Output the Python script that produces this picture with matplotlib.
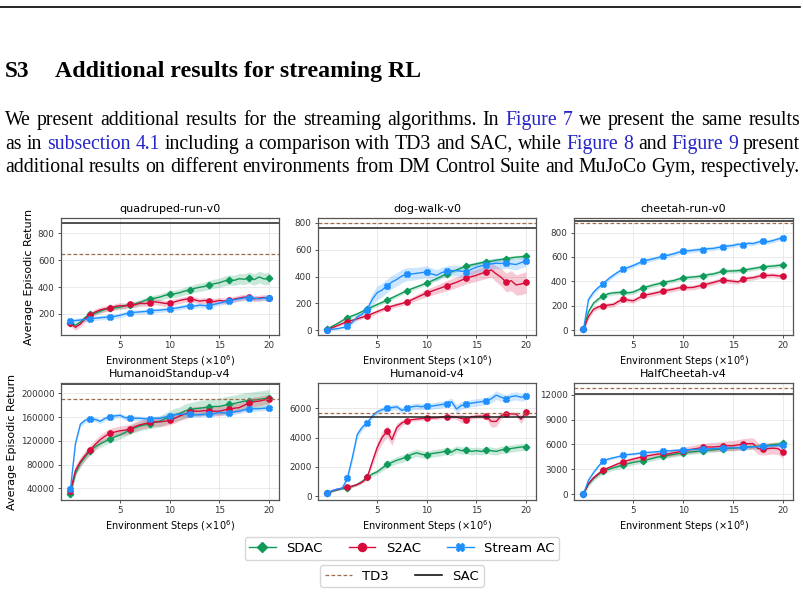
import numpy as np
import matplotlib
matplotlib.use("Agg")
import matplotlib.pyplot as plt
from matplotlib.lines import Line2D

W, H = 804, 595

# env steps (x10^6), one value every 0.5
steps = np.arange(0, 20.5, 0.5)

# ---- quadruped-run-v0
quad_sdac = [135, 115, 140, 175, 200, 205, 220, 235, 242, 245,
             250, 262, 268, 275, 285, 300, 312, 318, 325, 338,
             346, 350, 358, 370, 378, 390, 398, 405, 416, 425,
             432, 445, 453, 450, 462, 458, 470, 455, 475, 460,
             465]
quad_sdac_sd = [12, 12, 12, 13, 14, 15, 16, 16, 17, 18,
                18, 19, 20, 20, 21, 22, 22, 23, 24, 25,
                26, 27, 28, 28, 30, 30, 31, 32, 33, 34,
                35, 36, 37, 38, 40, 40, 42, 42, 44, 44,
                45]
quad_s2ac = [130, 100, 125, 165, 192, 215, 230, 238, 242, 255,
             262, 258, 272, 268, 280, 276, 284, 290, 285, 278,
             279, 290, 300, 308, 312, 305, 295, 300, 297, 292,
             300, 296, 300, 310, 318, 325, 324, 312, 318, 322,
             316]
quad_s2ac_sd = 22
quad_stream = [148, 150, 155, 158, 163, 168, 172, 175, 178, 182,
               190, 200, 207, 212, 215, 218, 222, 226, 228, 232,
               237, 242, 248, 255, 262, 258, 265, 262, 262, 272,
               280, 290, 297, 305, 312, 318, 321, 318, 312, 318,
               316]
quad_stream_sd = 17
quad_td3, quad_sac = 648, 879

# ---- dog-walk-v0
dog_sdac = [10, 30, 50, 72, 94, 108, 122, 140, 158, 175,
            192, 208, 225, 242, 260, 278, 295, 310, 324, 338,
            352, 368, 385, 403, 421, 435, 450, 465, 478, 488,
            495, 503, 510, 515, 522, 528, 535, 540, 545, 548,
            552]
dog_sdac_sd = 14
dog_s2ac = [5, 20, 35, 50, 64, 75, 86, 98, 109, 124,
            139, 154, 168, 180, 190, 200, 211, 228, 245, 262,
            280, 292, 305, 318, 332, 345, 358, 374, 389, 400,
            410, 424, 436, 450, 420, 395, 357, 370, 338, 345,
            357]
dog_s2ac_sd = [5, 8, 10, 10, 12, 12, 12, 12, 12, 14,
               14, 14, 15, 15, 16, 16, 18, 20, 22, 25,
               28, 30, 32, 35, 38, 40, 40, 42, 42, 45,
               45, 48, 50, 55, 60, 65, 70, 75, 75, 80,
               80]
dog_stream = [5, 8, 12, 20, 30, 60, 100, 120, 154, 230,
              280, 300, 332, 360, 380, 405, 419, 420, 425, 430,
              436, 420, 410, 430, 441, 445, 445, 440, 436, 455,
              470, 480, 490, 495, 500, 498, 503, 495, 490, 505,
              515]
dog_stream_sd = [5, 5, 6, 8, 10, 15, 20, 25, 30, 45,
                 50, 50, 50, 50, 50, 50, 48, 48, 45, 45,
                 45, 45, 42, 40, 40, 40, 40, 40, 40, 40,
                 40, 40, 40, 40, 40, 40, 40, 40, 40, 40,
                 40]
dog_td3, dog_sac = 800, 763

# ---- cheetah-run-v0
run_sdac = [5, 150, 220, 255, 278, 298, 305, 308, 311, 305,
            312, 330, 349, 358, 370, 380, 390, 398, 405, 418,
            429, 432, 435, 440, 445, 455, 460, 472, 483, 484,
            485, 488, 491, 498, 505, 512, 521, 522, 525, 530,
            535]
run_sdac_sd = 18
run_s2ac = [5, 110, 170, 190, 197, 205, 210, 235, 254, 245,
            240, 262, 284, 292, 300, 310, 319, 328, 335, 345,
            350, 348, 350, 360, 369, 380, 390, 402, 412, 405,
            400, 395, 418, 425, 430, 440, 450, 448, 450, 445,
            442]
run_s2ac_sd = 20
run_stream = [5, 250, 310, 350, 382, 420, 450, 478, 500, 515,
              530, 548, 568, 575, 585, 595, 609, 615, 625, 638,
              647, 650, 655, 660, 661, 668, 670, 678, 683, 690,
              695, 705, 696, 712, 710, 722, 732, 725, 735, 748,
              756]
run_stream_sd = 18
run_td3, run_sac = 876, 893

# ---- HumanoidStandup-v4 (in thousands)
stand_sdac = [30, 65, 82, 93, 103.7, 110, 115, 119, 122.8, 127,
              130, 134, 138.6, 142, 145, 147, 148.7, 151, 153, 157,
              161, 164, 166, 170, 172.4, 174, 175, 176, 177, 178,
              178, 180, 182, 183, 185, 187, 188, 189, 190, 191,
              193]
stand_sdac_sd = [2, 5, 6, 6, 6, 6, 6, 6, 6, 7,
                 7, 7, 7, 8, 8, 8, 8, 9, 9, 10,
                 10, 11, 11, 12, 12, 12, 13, 13, 13, 13,
                 14, 14, 14, 14, 14, 14, 14, 14, 14, 14,
                 14]
stand_s2ac = [36, 70, 85, 96, 105, 114, 122, 128, 133, 135,
              137, 138, 140, 144, 147, 149, 151, 152, 152, 153,
              155, 158, 162, 165, 168, 170, 170, 171, 171, 170,
              170, 172, 173.5, 175, 176, 180, 184, 186, 187, 189,
              190]
stand_s2ac_sd = 8
stand_stream = [38, 115, 148, 155, 157, 156, 153, 158, 161, 162,
                163, 159, 159, 158, 158, 157, 157, 158, 158, 160,
                162, 164, 165, 165, 165.5, 164, 164, 165, 164.5, 166,
                168, 167, 167, 169, 170, 172, 173.5, 174, 174, 175,
                175]
stand_stream_sd = 4
stand_td3, stand_sac = 191, 215.8
stand_unit = 1000

# ---- Humanoid-v4
hum_sdac = [200, 320, 420, 500, 570, 650, 800, 1000, 1273, 1500,
            1650, 1900, 2160, 2300, 2450, 2550, 2680, 2850, 2950, 2850,
            2800, 2900, 2950, 3000, 3090, 3000, 3200, 3100, 3160, 3050,
            3100, 3050, 3140, 3100, 3050, 3150, 3180, 3250, 3300, 3350,
            3360]
hum_sdac_sd = [50, 50, 60, 60, 60, 60, 80, 100, 120, 150,
               180, 200, 220, 230, 240, 250, 250, 250, 250, 250,
               250, 250, 250, 250, 250, 250, 250, 250, 250, 250,
               250, 250, 250, 250, 250, 250, 250, 250, 250, 250,
               250]
hum_s2ac = [200, 350, 450, 540, 614, 680, 780, 950, 1273, 2300,
            3300, 4000, 4430, 3860, 4700, 5000, 5160, 5220, 5260, 5300,
            5320, 5340, 5350, 5400, 5430, 5420, 5400, 5300, 5230, 5400,
            5450, 5460, 5450, 5100, 5100, 5500, 5640, 5620, 5600, 5250,
            5730]
hum_s2ac_sd = [50, 50, 60, 60, 60, 70, 80, 100, 150, 250,
               350, 400, 400, 400, 300, 200, 150, 120, 120, 120,
               120, 120, 120, 120, 120, 150, 150, 300, 250, 150,
               150, 150, 200, 400, 350, 200, 120, 120, 150, 300,
               120]
hum_stream = [200, 380, 480, 540, 1200, 2600, 4200, 4700, 5000, 5450,
              5750, 5900, 6000, 6050, 6100, 5850, 6000, 6100, 6150, 6100,
              6180, 6150, 6200, 6250, 6320, 6450, 5950, 6200, 6270, 6350,
              6400, 6450, 6500, 6650, 6900, 6750, 6660, 6800, 6850, 6750,
              6860]
hum_stream_sd = [50, 60, 80, 100, 200, 250, 250, 200, 180, 180,
                 180, 180, 180, 180, 200, 200, 200, 200, 220, 220,
                 220, 220, 230, 230, 240, 250, 300, 250, 250, 250,
                 250, 250, 250, 280, 300, 280, 280, 280, 280, 280,
                 280]
hum_td3, hum_sac = 5705, 5386

# ---- HalfCheetah-v4
hc_sdac = [50, 1200, 1900, 2400, 2800, 3000, 3200, 3350, 3520, 3700,
           3850, 3950, 4040, 4200, 4350, 4500, 4600, 4700, 4800, 4900,
           5000, 5080, 5120, 5180, 5240, 5300, 5350, 5420, 5480, 5520,
           5560, 5600, 5640, 5700, 5750, 5780, 5800, 5900, 5980, 6050,
           6120]
hc_sdac_sd = 300
hc_s2ac = [50, 1300, 2000, 2500, 2920, 3200, 3450, 3700, 3920, 4100,
           4250, 4400, 4520, 4650, 4750, 4850, 4920, 4850, 5000, 5100,
           5240, 5350, 5450, 5550, 5640, 5700, 5700, 5750, 5800, 5850,
           5850, 5950, 6050, 6100, 6100, 5500, 5440, 5500, 5550, 5500,
           5040]
hc_s2ac_sd = [50, 150, 200, 200, 200, 200, 200, 200, 220, 220,
              240, 250, 260, 280, 300, 320, 340, 360, 380, 400,
              420, 440, 460, 480, 500, 520, 540, 560, 580, 600,
              620, 640, 660, 680, 700, 700, 700, 700, 700, 700,
              700]
hc_stream = [50, 1700, 2600, 3400, 4040, 4250, 4400, 4550, 4680, 4800,
             4850, 4930, 5000, 5050, 5100, 5150, 5200, 5230, 5280, 5320,
             5360, 5380, 5400, 5430, 5450, 5480, 5500, 5530, 5560, 5580,
             5600, 5620, 5640, 5680, 5720, 5740, 5800, 5820, 5850, 5880,
             5920]
hc_stream_sd = 150
hc_td3, hc_sac = 12800, 12120

C_SDAC = "#0f9a5a"
C_S2AC = "#d80b3c"
C_STREAM = "#1e8fff"
C_TD3 = "#9c6a4c"

panels = [
    ("quadruped-run-v0", 1, [(quad_sdac, quad_sdac_sd), (quad_s2ac, quad_s2ac_sd), (quad_stream, quad_stream_sd)],
     quad_td3, quad_sac, (43, 914), [200, 400, 600, 800]),
    ("dog-walk-v0", 1, [(dog_sdac, dog_sdac_sd), (dog_s2ac, dog_s2ac_sd), (dog_stream, dog_stream_sd)],
     dog_td3, dog_sac, (-35, 837), [0, 200, 400, 600, 800]),
    ("cheetah-run-v0", 1, [(run_sdac, run_sdac_sd), (run_s2ac, run_s2ac_sd), (run_stream, run_stream_sd)],
     run_td3, run_sac, (-41, 920), [0, 200, 400, 600, 800]),
    ("HumanoidStandup-v4", stand_unit, [(stand_sdac, stand_sdac_sd), (stand_s2ac, stand_s2ac_sd),
                                        (stand_stream, stand_stream_sd)],
     stand_td3, stand_sac, (20300, 217500), [40000, 80000, 120000, 160000, 200000]),
    ("Humanoid-v4", 1, [(hum_sdac, hum_sdac_sd), (hum_s2ac, hum_s2ac_sd), (hum_stream, hum_stream_sd)],
     hum_td3, hum_sac, (-273, 7727), [0, 2000, 4000, 6000]),
    ("HalfCheetah-v4", 1, [(hc_sdac, hc_sdac_sd), (hc_s2ac, hc_s2ac_sd), (hc_stream, hc_stream_sd)],
     hc_td3, hc_sac, (-680, 13400), [0, 3000, 6000, 9000, 12000]),
]

styles = [
    dict(color=C_SDAC, marker="D", ms=3.3, label="SDAC"),
    dict(color=C_S2AC, marker="o", ms=3.8, label="S2AC"),
    dict(color=C_STREAM, marker="X", ms=4.3, label="Stream AC"),
]

fig = plt.figure(figsize=(W / 100, H / 100), dpi=100)

# axes boxes in pixels: left, top, right, bottom
boxes = [(61, 218, 279, 335), (318, 218, 536, 335), (574, 218, 793, 335),
         (61, 383, 279, 500), (318, 383, 536, 500), (574, 383, 793, 500)]

for k, (title, unit, series, td3, sac, ylim, yticks) in enumerate(panels):
    l, t, r, b = boxes[k]
    ax = fig.add_axes([l / W, 1 - b / H, (r - l) / W, (b - t) / H])
    for (mean, sd), st in zip(series, styles):
        m = np.asarray(mean, dtype=float) * unit
        s = np.asarray(sd, dtype=float) * unit
        ax.fill_between(steps, m - s, m + s, color=st["color"], alpha=0.22, lw=0)
        ax.plot(steps, m, color=st["color"], lw=1.0, marker=st["marker"], ms=st["ms"],
                markevery=4, label=st["label"])
    ax.axhline(td3 * unit, color=C_TD3, ls="--", lw=0.9, dashes=(3, 1.8))
    ax.axhline(sac * unit, color="#222222", lw=1.1)
    ax.set_xlim(-0.95, 21.0)
    ax.set_ylim(ylim)
    ax.set_xticks([5, 10, 15, 20])
    ax.set_yticks(yticks)
    ax.grid(True, color="#e6e6e6", lw=0.6)
    ax.set_axisbelow(True)
    for sp in ax.spines.values():
        sp.set_color("#555555")
        sp.set_linewidth(0.9)
    ax.tick_params(labelsize=6.3, length=2.5, width=0.6, colors="#333333", pad=2)
    ax.set_title(title, fontsize=8, pad=4)
    ax.set_xlabel(r"Environment Steps ($\times 10^6$)", fontsize=7, labelpad=2)
    if k % 3 == 0:
        ax.set_ylabel("Average Episodic Return", fontsize=8, labelpad=3)

h1 = [Line2D([], [], color=st["color"], marker=st["marker"], ms=st["ms"] + 2, lw=1.0)
      for st in styles]
fig.legend(h1, [st["label"] for st in styles], loc="center", ncol=3,
           bbox_to_anchor=(402 / W, 1 - 548.5 / H), fontsize=9.5,
           handlelength=2.0, columnspacing=2.0, borderpad=0.35, handletextpad=0.8)
h2 = [Line2D([], [], color=C_TD3, ls="--", lw=0.9, dashes=(3, 1.8)),
      Line2D([], [], color="black", lw=1.1)]
fig.legend(h2, ["TD3", "SAC"], loc="center", ncol=2,
           bbox_to_anchor=(402 / W, 1 - 576 / H), fontsize=9.5,
           handlelength=2.0, columnspacing=2.0, borderpad=0.35, handletextpad=0.8)

# ---- page text above the figure
fig.add_artist(Line2D([0, 800 / W], [1 - 6.5 / H] * 2, color="black", lw=1.2))
serif = "Liberation Serif"
fig.text(5 / W, 1 - 77 / H, "S3", fontsize=16.8, fontweight="bold", family=serif, va="baseline")
fig.text(55 / W, 1 - 77 / H, "Additional results for streaming RL", fontsize=17.2,
         fontweight="bold", family=serif, va="baseline")

BLUE = "#2424c8"
lines = [
    [("We", None), ("present", None), ("additional", None), ("results", None), ("for", None),
     ("the", None), ("streaming", None), ("algorithms.", None), ("In", None), ("Figure", BLUE),
     ("7", BLUE), ("we", None), ("present", None), ("the", None), ("same", None), ("results", None)],
    [("as", None), ("in", None), ("subsection", BLUE), ("4.1", BLUE), ("including", None), ("a", None),
     ("comparison", None), ("with", None), ("TD3", None), ("and", None), ("SAC,", None), ("while", None),
     ("Figure", BLUE), ("8", BLUE), ("and", None), ("Figure", BLUE), ("9", BLUE), ("present", None)],
    [("additional", None), ("results", None), ("on", None), ("different", None), ("environments", None),
     ("from", None), ("DM", None), ("Control", None), ("Suite", None), ("and", None), ("MuJoCo", None),
     ("Gym,", None), ("respectively.", None)],
]
baselines = [125, 149, 172]

renderer = fig.canvas.get_renderer()
natural = []
for words in lines:
    probe = fig.text(0, 0, " ".join(w for w, _ in words), fontsize=10, family=serif)
    natural.append(probe.get_window_extent(renderer).width)
    probe.remove()
body_size = 10 * 795 / max(natural)

for words, yb in zip(lines, baselines):
    texts = [fig.text(0, 1 - yb / H, w, fontsize=body_size, family=serif, va="baseline",
                      color=c or "black") for w, c in words]
    widths = [t.get_window_extent(renderer).width for t in texts]
    gap = (795 - sum(widths)) / (len(texts) - 1)
    x = 5.0
    for t, w in zip(texts, widths):
        t.set_x(x / W)
        x += w + gap

fig.savefig("out.png", dpi=100)
